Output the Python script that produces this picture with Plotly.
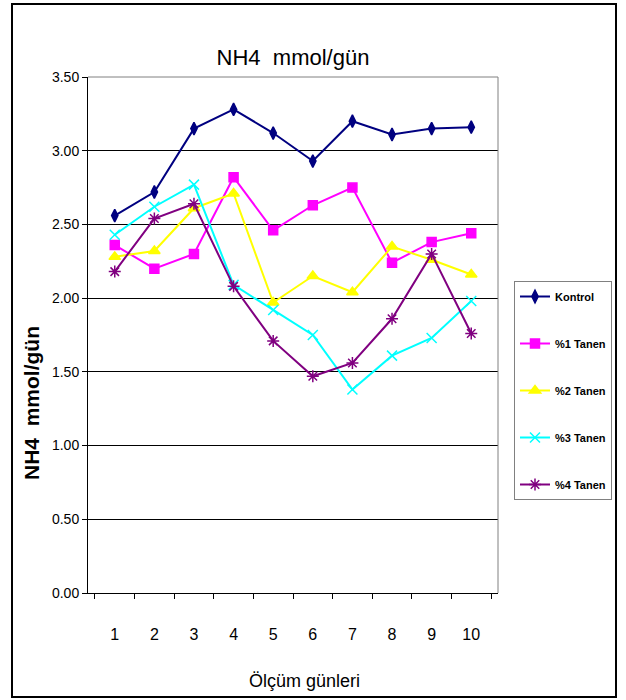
import plotly.graph_objects as go

days = ["1", "2", "3", "4", "5", "6", "7", "8", "9", "10"]
kontrol = [2.56, 2.72, 3.15, 3.28, 3.12, 2.93, 3.20, 3.11, 3.15, 3.16]
tanen1 = [2.36, 2.20, 2.30, 2.82, 2.46, 2.63, 2.75, 2.24, 2.38, 2.44]
tanen2 = [2.28, 2.32, 2.61, 2.71, 1.97, 2.15, 2.04, 2.35, 2.26, 2.16]
tanen3 = [2.43, 2.62, 2.77, 2.09, 1.92, 1.75, 1.38, 1.61, 1.73, 1.98]
tanen4 = [2.18, 2.54, 2.64, 2.08, 1.71, 1.47, 1.56, 1.86, 2.30, 1.76]
y_ticks = [0, 0.5, 1.0, 1.5, 2.0, 2.5, 3.0, 3.5]

series = [
    ("Kontrol", kontrol, "#000080", "diamond-tall", 9),
    ("%1 Tanen", tanen1, "#FF00FF", "square", 9),
    ("%2 Tanen", tanen2, "#FFFF00", "triangle-up", 10),
    ("%3 Tanen", tanen3, "#00FFFF", "x-thin-open", 10),
    ("%4 Tanen", tanen4, "#800080", "asterisk-open", 10),
]

FONT = "Liberation Sans Narrow, Arial Narrow, Liberation Sans, Arial, sans-serif"

fig = go.Figure()
for name, vals, color, sym, sz in series:
    fig.add_trace(go.Scatter(
        x=days, y=vals, name=name, mode="lines+markers",
        line=dict(color=color, width=2),
        marker=dict(symbol=sym, size=sz, color=color,
                    line=dict(color=color, width=1.5)),
        legendgroup=name,
    ))

fig.update_layout(
    width=626, height=700,
    paper_bgcolor="white", plot_bgcolor="white",
    margin=dict(l=88, r=128, t=77, b=107, autoexpand=False),
    title=dict(text="NH4  mmol/gün", x=0.5, xref="paper", xanchor="center",
               y=1 - 57 / 700, yanchor="middle",
               font=dict(family=FONT, size=22, color="black")),
    showlegend=True,
    legend=dict(x=(514 - 88) / 410, xanchor="left", y=(593 - 281) / 516, yanchor="top",
                bordercolor="#808080", borderwidth=1, bgcolor="white",
                font=dict(family=FONT, size=11, color="black", weight="bold"),
                tracegroupgap=28, itemwidth=30),
    xaxis=dict(type="category", showgrid=False, showline=True, linecolor="black",
               linewidth=1, ticks="outside", tickson="boundaries", ticklen=5,
               tickcolor="black", ticklabelstandoff=27,
               tickfont=dict(family=FONT, size=16, color="black"),
               automargin=False, fixedrange=True),
    yaxis=dict(range=[0, 3.5], tickvals=y_ticks, tickformat=".2f",
               showgrid=True, gridcolor="black", gridwidth=1,
               showline=True, linecolor="black", linewidth=1,
               ticks="outside", ticklen=5, tickcolor="black",
               tickfont=dict(family=FONT, size=14, color="black"),
               zeroline=False, automargin=False),
    annotations=[
        dict(text="Ölçüm günleri", xref="paper", yref="paper",
             x=(304 - 88) / 410, y=(593 - 681) / 516,
             xanchor="center", yanchor="middle", showarrow=False,
             font=dict(family=FONT, size=18, color="black")),
        dict(text="NH4  mmol/gün", xref="paper", yref="paper",
             x=(31 - 88) / 410, y=(593 - 403) / 516, textangle=-90,
             xanchor="center", yanchor="middle", showarrow=False,
             font=dict(family="Liberation Sans, Arial, sans-serif",
                       size=21, color="black", weight="bold")),
    ],
    shapes=[
        dict(type="line", xref="paper", yref="paper", x0=0, x1=1, y0=1, y1=1,
             line=dict(color="#808080", width=1)),
        dict(type="line", xref="paper", yref="paper", x0=1, x1=1, y0=0, y1=1,
             line=dict(color="#808080", width=1)),
        dict(type="rect", xref="paper", yref="paper",
             x0=(12 - 88) / 410, x1=(616 - 88) / 410,
             y0=(593 - 697) / 516, y1=(593 - 4) / 516,
             line=dict(color="black", width=2), layer="below"),
    ],
)

fig.write_html("out.html", config={"displayModeBar": False},
               post_script="document.body.style.margin='0px';document.body.style.overflow='hidden';")
